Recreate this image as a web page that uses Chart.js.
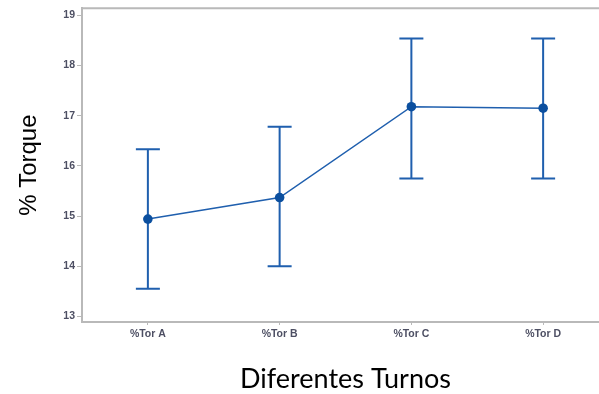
<!DOCTYPE html>
<html>
<head>
<meta charset="utf-8">
<script src="https://cdn.jsdelivr.net/npm/chart.js@4/dist/chart.umd.min.js"></script>
<style>
  html, body { margin: 0; padding: 0; background: #fff; overflow: hidden; }
  #wrap { width: 599px; height: 394px; overflow: hidden; }
  canvas { display: block; }
</style>
</head>
<body>
<div id="wrap"><canvas id="c" width="640" height="394"></canvas></div>
<script>
// Shift categories and torque statistics (mean with interval limits)
const turnos = ['%Tor A', '%Tor B', '%Tor C', '%Tor D'];
const media = [14.94, 15.37, 17.18, 17.15];
const limiteSuperior = [16.33, 16.78, 18.54, 18.54];
const limiteInferior = [13.55, 14.00, 15.75, 15.75];
const yTicks = [13, 14, 15, 16, 17, 18, 19];

const azul = '#1f5fae';
const gris = '#b9b9b9';
const textoTicks = '#4d4f63';

// Vertical interval bars with end caps, placed through the chart scales
const intervalos = {
  id: 'intervalos',
  beforeDatasetsDraw(chart) {
    const { ctx, scales: { x, y } } = chart;
    ctx.save();
    ctx.strokeStyle = azul;
    ctx.lineWidth = 2;
    const cap = 12;
    turnos.forEach((_, i) => {
      const px = x.getPixelForValue(i);
      const yt = y.getPixelForValue(limiteSuperior[i]);
      const yb = y.getPixelForValue(limiteInferior[i]);
      ctx.beginPath();
      ctx.moveTo(px, yt); ctx.lineTo(px, yb);
      ctx.moveTo(px - cap, yt); ctx.lineTo(px + cap, yt);
      ctx.moveTo(px - cap, yb); ctx.lineTo(px + cap, yb);
      ctx.stroke();
    });
    ctx.restore();
  }
};

// Top frame line of the plot box
const marco = {
  id: 'marco',
  afterDraw(chart) {
    const { ctx, chartArea: a } = chart;
    ctx.save();
    ctx.strokeStyle = gris;
    ctx.lineWidth = 2;
    ctx.beginPath();
    ctx.moveTo(a.left - 1, a.top);
    ctx.lineTo(a.right + 1, a.top);
    ctx.stroke();
    ctx.restore();
  }
};

new Chart(document.getElementById('c'), {
  type: 'line',
  data: {
    labels: turnos,
    datasets: [{
      data: media,
      borderColor: azul,
      backgroundColor: '#0b4f9f',
      borderWidth: 1.5,
      pointRadius: 4.8,
      pointHoverRadius: 4.8,
      pointBackgroundColor: '#0b4f9f',
      pointBorderWidth: 0,
      tension: 0
    }]
  },
  options: {
    responsive: false,
    devicePixelRatio: 1,
    animation: false,
    events: [],
    layout: { padding: { top: 8, right: 31, bottom: 0, left: 0 } },
    plugins: { legend: { display: false }, tooltip: { enabled: false } },
    scales: {
      x: {
        offset: true,
        afterFit(s) { s.height = 72; },
        border: { color: gris, width: 2 },
        grid: { display: true, drawOnChartArea: false, drawTicks: true, tickLength: 3, color: gris },
        ticks: { color: textoTicks, font: { family: 'Liberation Sans', size: 10.5, weight: 'bold' }, padding: 3, maxRotation: 0 },
        title: {
          display: true,
          text: 'Diferentes Turnos',
          color: '#000',
          font: { family: 'Lato', size: 27, lineHeight: 1 },
          padding: { top: 0, bottom: 1 }
        }
      },
      y: {
        min: 12.89,
        max: 19.14,
        afterFit(s) { s.width = 82; },
        afterBuildTicks(s) { s.ticks = yTicks.map(v => ({ value: v })); },
        border: { color: gris, width: 2 },
        grid: { display: true, drawOnChartArea: false, drawTicks: true, tickLength: 5, color: gris },
        ticks: { color: textoTicks, font: { family: 'Liberation Sans', size: 10.5, weight: 'bold' }, padding: 2 },
        title: {
          display: true,
          text: '% Torque',
          color: '#000',
          font: { family: 'Liberation Sans', size: 24, lineHeight: 1 },
          padding: { top: 17, bottom: 0 }
        }
      }
    }
  },
  plugins: [intervalos, marco]
});
</script>
</body>
</html>
